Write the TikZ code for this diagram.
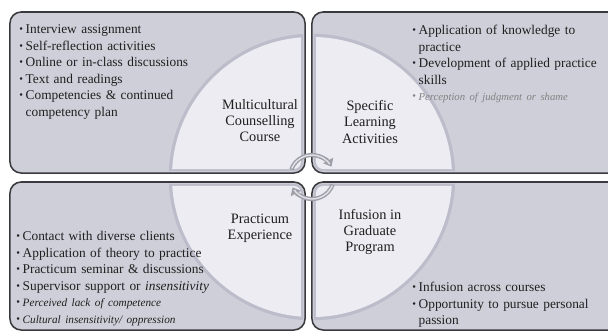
\documentclass[tikz,border=0pt]{standalone}
\usepackage{fontspec}
\setmainfont{Liberation Serif}
\usetikzlibrary{calc,arrows.meta}

\definecolor{boxgray}{RGB}{207,207,218}
\definecolor{panelline}{RGB}{58,58,62}
\definecolor{quadlight}{RGB}{236,236,242}
\definecolor{quadedge}{RGB}{188,188,202}
\definecolor{ringgray}{RGB}{158,158,168}
\definecolor{ringlight}{RGB}{226,226,232}
\definecolor{fadedtext}{RGB}{130,130,130}

% one bullet line, its continuation line, and a faded bullet line
\newcommand{\bdot}{\makebox[0.16cm][l]{\raisebox{0.15ex}{\fontsize{7.5}{7.5}\selectfont\textbullet}}}
\newcommand{\bitem}[1]{\par\noindent\bdot #1}
\newcommand{\citem}[1]{\par\noindent\hspace*{0.16cm}#1}
\newcommand{\fitem}[1]{\par\noindent{\color{fadedtext}\bdot #1}}

\begin{document}
\begin{tikzpicture}[x=0.025cm, y=-0.025cm]

    \tikzset{panel/.style={%
      draw=panelline,%
      line width=1.1pt,%
      fill=boxgray,%
      rounded corners=0.28cm,%
      inner sep=0pt,%
      outer sep=0pt}%
    };

    \tikzset{hub/.style={align=center, inner sep=0pt, text=black!88, font=\fontsize{10.2}{11.4}\selectfont}};

    \tikzset{bullets/.style={anchor=north west, inner sep=0pt, align=left, text width=5cm, text=black!88, font=\fontsize{9.5}{11.7}\selectfont}};

    \tikzset{ring/.style={draw=ringgray, line width=3pt, -{Triangle[length=5pt,width=8pt]}}};

    \useasboundingbox (0,0) rectangle (608,331);
    \clip (0,0) rectangle (608,331);

    %%%%%%%%%%
    % panels %
    %%%%%%%%%%
    \node[panel, minimum width=7.375cm, minimum height=4.025cm] (tlbox) at (157.5,92.5) {};

    \node[panel, minimum width=7.95cm, minimum height=4.025cm] (trbox) at (471,92.5) {};

    \node[panel, minimum width=7.375cm, minimum height=3.7cm] (blbox) at (157.5,256) {};

    \node[panel, minimum width=7.95cm, minimum height=3.7cm] (brbox) at (471,256) {};

    %%%%%%%%%%%%%%%%%%%
    % circle quarters %
    %%%%%%%%%%%%%%%%%%%
    \coordinate (hubc) at (312,177);

    \foreach \q in {tlbox,trbox,blbox,brbox}{
      \begin{scope}
        \clip[rounded corners=0.22cm] ($(\q.north west)+(2,2)$) rectangle ($(\q.south east)+(-2,-2)$);
        \fill[quadedge] (hubc) circle[radius=3.58cm];
        \clip[rounded corners=0.18cm] ($(\q.north west)+(4,4)$) rectangle ($(\q.south east)+(-4,-4)$);
        \fill[quadlight] (hubc) circle[radius=3.5cm];
      \end{scope}
    }

    \draw[ring] (hubc) ++(160:0.55cm) arc[start angle=160, end angle=28, radius=0.55cm];
    \draw[ring] (hubc) ++(-20:0.55cm) arc[start angle=-20, end angle=-152, radius=0.55cm];
    \draw[ringlight, line width=1pt] (hubc) ++(157:0.55cm) arc[start angle=157, end angle=36, radius=0.55cm];
    \draw[ringlight, line width=1pt] (hubc) ++(-23:0.55cm) arc[start angle=-23, end angle=-144, radius=0.55cm];

    %%%%%%%%%%%%%%%%%
    % quarter names %
    %%%%%%%%%%%%%%%%%
    \node[hub] (mcc) at (260,121) {Multicultural\\Counselling\\Course};

    \node[hub] (sla) at (370,122) {Specific\\Learning\\Activities};

    \node[hub] (prx) at (260,228) {Practicum\\Experience};

    \node[hub] (igp) at (370,232) {Infusion in\\Graduate\\Program};

    %%%%%%%%%%%
    % bullets %
    %%%%%%%%%%%
    \node[bullets] (mccl) at (19,17) {%
      \bitem{Interview assignment}%
      \bitem{Self-reflection activities}%
      \bitem{Online or in-class discussions}%
      \bitem{Text and readings}%
      \bitem{Competencies \& continued}%
      \citem{competency plan}};

    \node[bullets] (slal) at (412,18) {%
      \bitem{Application of knowledge to}%
      \citem{practice}%
      \bitem{Development of applied practice}%
      \citem{skills}%
      \fitem{\itshape\fontsize{7.6}{11.7}\selectfont Perception of judgment or shame}};

    \node[bullets] (prxl) at (16,224) {%
      \bitem{Contact with diverse clients}%
      \bitem{Application of theory to practice}%
      \bitem{Practicum seminar \& discussions}%
      \bitem{Supervisor support or \textit{insensitivity}}%
      \bitem{{\itshape\fontsize{8}{11.7}\selectfont Perceived lack of competence}}%
      \bitem{{\itshape\fontsize{8}{11.7}\selectfont Cultural insensitivity/ oppression}}};

    \node[bullets] (igpl) at (412,275) {%
      \bitem{Infusion across courses}%
      \bitem{Opportunity to pursue personal}%
      \citem{passion}};

  \end{tikzpicture}
\end{document}
